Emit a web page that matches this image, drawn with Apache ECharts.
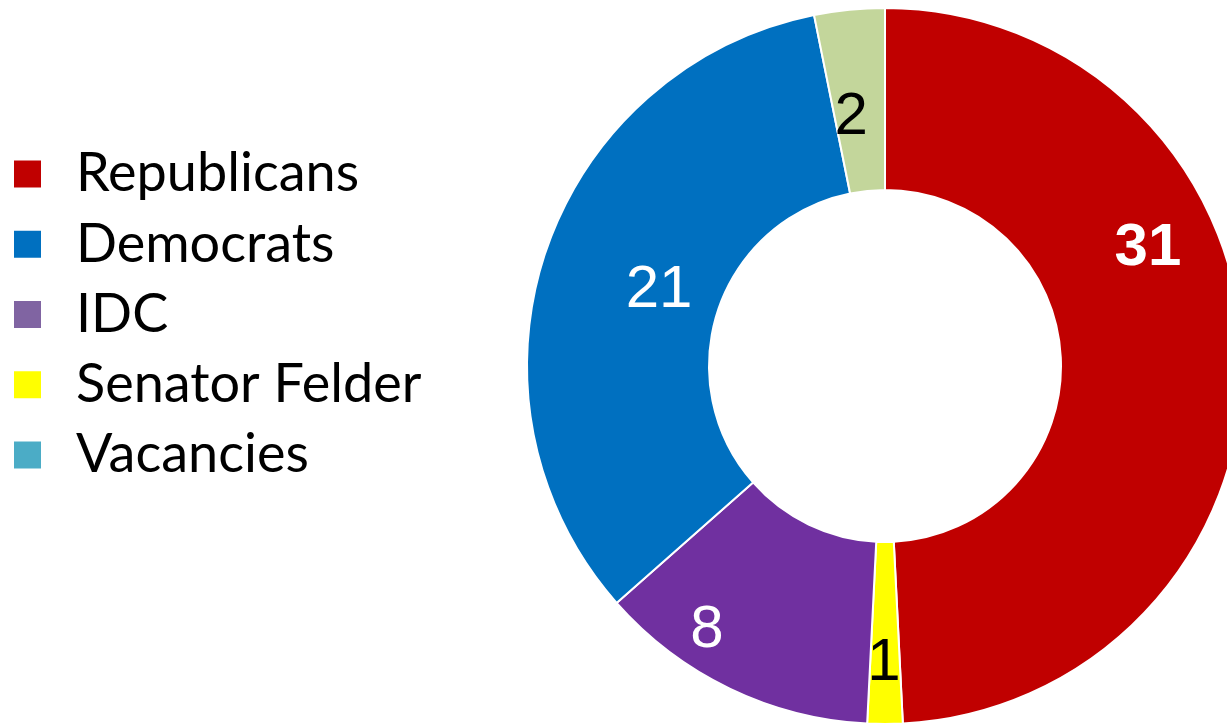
<!DOCTYPE html>
<html>
<head>
<meta charset="utf-8">
<script src="https://cdn.jsdelivr.net/npm/echarts@6/dist/echarts.min.js"></script>
<style>
html,body{margin:0;padding:0;background:#fff;}
#chart{width:1227px;height:725px;}
</style>
</head>
<body>
<div id="chart"></div>
<script>
// Slices in drawing order (clockwise from 12 o'clock)
const sliceNames  = ['Republicans', 'Senator Felder', 'IDC', 'Democrats', 'Vacancies'];
const sliceValues = [31, 1, 8, 21, 2];

// Styles
const sliceColors = ['#C00000', '#FFFF00', '#7030A0', '#0070C0', '#C3D69B'];
const labelColors = ['#FFFFFF', '#000000', '#FFFFFF', '#FFFFFF', '#000000'];
const labelWeights = ['bold', 'normal', 'normal', 'normal', 'normal'];
// manual label nudges (as placed in the original)
const labelNudge = [[-7, -111], [-1, 27], [-61, 21], [30, 10], [-7, 20]];

// Legend order and swatch colours as shown in the reference
const legendNames  = ['Republicans', 'Democrats', 'IDC', 'Senator Felder', 'Vacancies'];
const legendColors = ['#C00000', '#0070C0', '#8064A2', '#FFFF00', '#4BACC6'];

const chart = echarts.init(document.getElementById('chart'), null, {renderer: 'canvas'});

const data = sliceNames.map((n, i) => ({
  name: n,
  value: sliceValues[i],
  itemStyle: {color: sliceColors[i]},
  label: {color: labelColors[i], fontWeight: labelWeights[i]}
}));

chart.setOption({
  animation: false,
  backgroundColor: '#ffffff',
  legend: {
    orient: 'vertical',
    left: 7,
    top: 142,
    icon: 'rect',
    itemWidth: 29,
    itemHeight: 29,
    itemGap: 16.25,
    selectedMode: false,
    textStyle: {
      fontFamily: 'Lato',
      fontSize: 54,
      lineHeight: 51,
      color: '#000',
      padding: [0, 0, 0, 29]
    },
    data: legendNames.map((n, i) => ({name: n, itemStyle: {color: legendColors[i]}}))
  },
  series: [{
    type: 'pie',
    center: [885, 366],
    radius: [176, 358],
    startAngle: 90,
    clockwise: true,
    avoidLabelOverlap: false,
    itemStyle: {borderColor: '#ffffff', borderWidth: 2},
    label: {
      show: true,
      position: 'inside',
      formatter: '{c}',
      fontFamily: 'Liberation Sans',
      fontSize: 60
    },
    labelLayout: function (p) {
      const d = labelNudge[p.dataIndex];
      return {dx: d[0], dy: d[1]};
    },
    labelLine: {show: false},
    emphasis: {disabled: true},
    data: data
  }]
});
</script>
</body>
</html>
